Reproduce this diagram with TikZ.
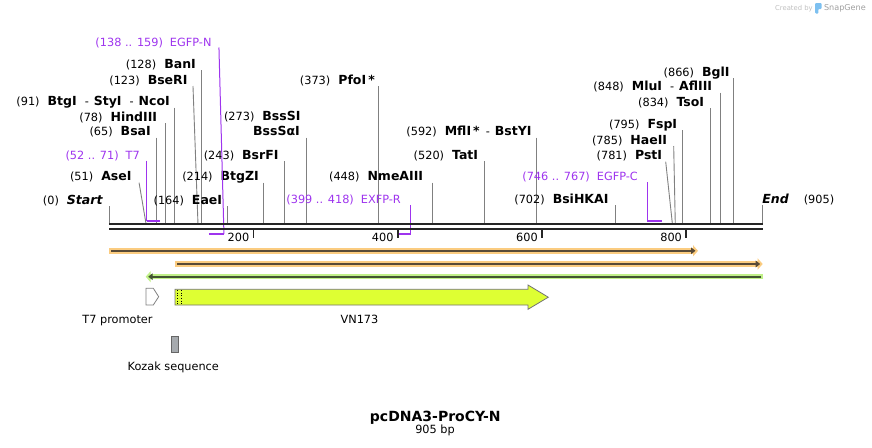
\documentclass[tikz,border=0pt]{standalone}
\usepackage{fontspec}
\setmainfont{DejaVu Sans}
\usetikzlibrary{arrows.meta}

\definecolor{primerpurple}{RGB}{158,52,238}
\definecolor{sitegray}{RGB}{128,128,128}
\definecolor{mapblack}{RGB}{38,38,38}
\definecolor{orflight}{RGB}{251,204,128}
\definecolor{orfdark}{RGB}{88,74,54}
\definecolor{grnlight}{RGB}{192,240,136}
\definecolor{grndark}{RGB}{66,84,50}
\definecolor{vnyellow}{RGB}{222,255,51}
\definecolor{kozakgray}{RGB}{166,170,174}
\definecolor{snapblue}{RGB}{125,192,240}

\newcommand{\enz}[1]{{\fontsize{12.5}{13}\selectfont\bfseries #1}}
\newcommand{\labgap}{\hspace{8pt}}
\newcommand{\mapx}[1]{109.3+0.721*#1}

\tikzset{
	lbl/.style={inner sep=0pt, anchor=base east},
	plbl/.style={lbl, text=primerpurple},
	site/.style={draw=sitegray, line width=0.9pt},
	primer/.style={draw=primerpurple, line width=1pt},
	primerbar/.style={draw=primerpurple, line width=2pt},
	mapline/.style={draw=mapblack, line width=2.3pt},
	tickmark/.style={draw=mapblack, line width=1.6pt},
	orfband/.style={draw=#1, line width=5.5pt, -{Triangle[length=5pt,width=11pt]}},
	orfline/.style={draw=#1, line width=2pt, -{Triangle[length=4.5pt,width=6.5pt]}},
	feat/.style={inner sep=0pt, anchor=base},
}

\begin{document}
\begin{tikzpicture}[x=1pt, y=-1pt, font=\fontsize{11.3}{13}\selectfont]
	\useasboundingbox (0,0) rectangle (872,447);

	\foreach \n/\p/\dx/\lx/\ly/\txt in {
		Start/0/0/102.7/200/{(0)\labgap\enz{\itshape Start}},
		AseI/51/-7/131.7/176.7/{(51)\labgap\enz{AseI}},
		BsaI/65/0/151/131.7/{(65)\labgap\enz{BsaI}},
		HindIII/78/0/157.3/117.3/{(78)\labgap\enz{HindIII}},
		BtgI/91/0/170/101.7/{(91)\labgap\enz{BtgI}\hspace{8pt}-\hspace{5pt}\enz{StyI}\hspace{8pt}-\hspace{5pt}\enz{NcoI}},
		BseRI/123/-5/187.7/80/{(123)\labgap\enz{BseRI}},
		BanI/128/0/196/64.3/{(128)\labgap\enz{BanI}},
		EaeI/164/0/222.3/200/{(164)\labgap\enz{EaeI}},
		BtgZI/214/0/259/176.7/{(214)\labgap\enz{BtgZI}},
		BsrFI/243/0/278.7/155/{(243)\labgap\enz{BsrFI}},
		BssSaI/273/0/300/131.7/{\enz{BssSαI}},
		PfoI/373/0/375/80/{(373)\labgap\enz{PfoI\,*}},
		NmeAIII/448/0/423.3/176.7/{(448)\labgap\enz{NmeAIII}},
		TatI/520/0/478.3/155/{(520)\labgap\enz{TatI}},
		MflI/592/0/531.7/131.7/{(592)\labgap\enz{MflI\,*}\hspace{6pt}-\hspace{5pt}\enz{BstYI}},
		BsiHKAI/702/0/608.7/199.3/{(702)\labgap\enz{BsiHKAI}},
		PstI/781/-6.7/662.3/155.7/{(781)\labgap\enz{PstI}},
		HaeII/785/-1.6/667.3/140/{(785)\labgap\enz{HaeII}},
		FspI/795/0/677.3/124.3/{(795)\labgap\enz{FspI}},
		TsoI/834/0/704.3/102.3/{(834)\labgap\enz{TsoI}},
		MluI/848/0/712.3/86.7/{(848)\labgap\enz{MluI}\hspace{8pt}-\hspace{5pt}\enz{AflIII}},
		BglI/866/0/729.7/72.3/{(866)\labgap\enz{BglI}}}{
		\coordinate (s\n) at ({\mapx{\p}},224);
		\coordinate (t\n) at ({\mapx{\p}+\dx},{\ly+6});
		\node[lbl] (l\n) at (\lx,{\ly+4.2}) {\txt};
		\draw[site] (t\n) -- (s\n);
	}
	\node[lbl] (lBssSI) at (300.7,{116.7+4.2}) {(273)\labgap\enz{BssSI}};

	\coordinate (sEnd) at (762.7,224);
	\coordinate (tEnd) at (762.7,205);
	\node[lbl, anchor=base west] (lEnd) at (762.2,203.5) {\enz{\itshape End}\hspace{15pt}(905)};
	\draw[site] (tEnd) -- (sEnd);

	% primers
	\foreach \n/\a/\b/\f/\dx/\yb/\lx/\ly/\txt in {
		T7/52/71/52/0/221/140/155/{(52 .. 71)\hspace{7pt}T7},
		EGFPN/138/159/159/-5/234/211.7/42/{(138 .. 159)\hspace{7pt}EGFP-N},
		EXFPR/399/418/418/0/233.5/401/199.3/{(399 .. 418)\hspace{7pt}EXFP-R},
		EGFPC/746/767/746/0/221/638/176.7/{(746 .. 767)\hspace{7pt}EGFP-C}}{
		\coordinate (pa\n) at ({\mapx{\a}},\yb);
		\coordinate (pb\n) at ({\mapx{\b}},\yb);
		\coordinate (pf\n) at ({\mapx{\f}},\yb);
		\coordinate (pt\n) at ({\mapx{\f}+\dx},{\ly+5.5});
		\node[plbl] (pl\n) at (\lx,{\ly+4.2}) {\txt};
		\draw[primer] (pt\n) -- (pf\n);
		\draw[primerbar] (pa\n) -- (pb\n);
	}

	% sequence line and ruler
	\coordinate (m0) at (109,224);
	\coordinate (m1) at (763,224);
	\coordinate (n0) at (109,229.3);
	\coordinate (n1) at (763,229.3);
	\draw[mapline] (m0) -- (m1);
	\draw[mapline] (n0) -- (n1);
	\foreach \k in {200,400,600,800}{
		\coordinate (k\k) at ({\mapx{\k}},229);
		\draw[tickmark] (k\k) -- ++(0,8.5);
		\node[lbl] (kl\k) at ({\mapx{\k}-4},241) {\k};
	}

	% translated frames
	\coordinate (o1a) at (109,250.8);
	\coordinate (o1b) at (698,250.8);
	\coordinate (o2a) at (175.3,264);
	\coordinate (o2b) at (762.7,264);
	\coordinate (g1a) at (763.3,276.7);
	\coordinate (g1b) at (145.7,276.7);
	\draw[orfband=orflight] (o1a) -- (o1b);
	\draw[orfline=orfdark] (111,250.8) -- (695.5,250.8);
	\draw[orfband=orflight] (o2a) -- (o2b);
	\draw[orfline=orfdark] (177.3,264) -- (760.2,264);
	\draw[orfband=grnlight] (g1a) -- (g1b);
	\draw[orfline=grndark] (761.3,276.7) -- (148.2,276.7);

	% features
	\draw[draw=gray, fill=white, line width=0.8pt]
	(146,288.3) -- (153.3,288.3) -- (158.7,296.7) -- (153.3,305) -- (146,305) -- cycle;
	\draw[draw=gray!90!black, fill=vnyellow, line width=0.8pt]
	(175,289.3) -- (528,289.3) -- (528,285) -- (548.3,297.2) -- (528,309.3) -- (528,305) -- (175,305) -- cycle;
	\draw[dotted, line width=0.7pt] (177.3,289.8) -- (177.3,304.5);
	\draw[dotted, line width=0.7pt] (181.5,289.8) -- (181.5,304.5);
	\draw[draw=gray!80!black, fill=kozakgray, line width=0.8pt] (171,336) rectangle (178.7,352.7);

	\node[feat] (lT7pro) at (117.5,323.5) {T7 promoter};
	\node[feat] (lVN173) at (359.5,323.5) {VN173};
	\node[feat] (lKozak) at (173.3,370.2) {Kozak sequence};

	\node[feat, font=\fontsize{14}{16}\selectfont\bfseries] (title) at (435.3,421.8) {pcDNA3-ProCY-N};
	\node[feat] (size) at (435,433.5) {905 bp};

	% logo
	\node[inner sep=0pt, anchor=base west, text=gray!50, font=\fontsize{6.8}{8}\selectfont] (created) at (775,10) {Created by};
	\fill[snapblue, rounded corners=0.8pt] (815.2,3) -- (821.5,3) -- (821.5,9) -- (818.3,9) -- (818.3,13.5) -- (815.2,13.5) -- cycle;
	\node[inner sep=0pt, anchor=base west, text=gray!75, font=\fontsize{8.1}{9}\selectfont] (snapgene) at (823.8,10.8) {SnapGene};
\end{tikzpicture}
\end{document}
